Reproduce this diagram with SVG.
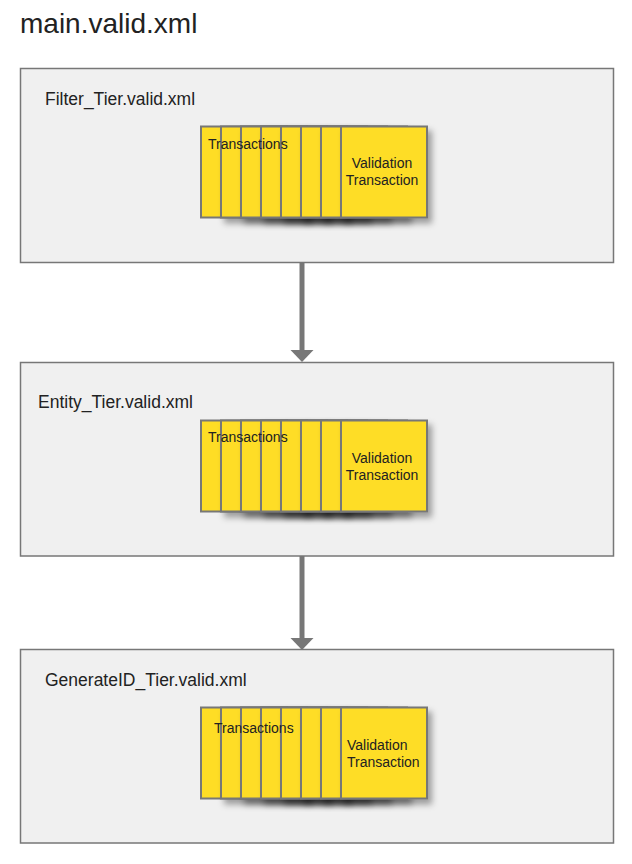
<svg xmlns="http://www.w3.org/2000/svg" width="632" height="864" viewBox="0 0 632 864">
<defs>
<style>
.tier{fill:#f0f0f0;stroke:#777;stroke-width:1.5}
.tx{fill:#fedd25;stroke:#777;stroke-width:2}
.s{filter:url(#sh)}
.t{font-family:"Liberation Sans",Arial,sans-serif;fill:#222}
.lbl{font-size:17.5px}
.small{font-size:14px}
.conn{stroke:#777;stroke-width:5;fill:none}
.head{fill:#777}
</style>
<filter id="sh" x="-20%" y="-20%" width="150%" height="160%">
<feDropShadow dx="4" dy="5" stdDeviation="3" flood-color="#000" flood-opacity="0.35"/>
</filter>
<g id="stack">
<rect class="tx" x="201" y="0" width="86" height="91"/>
<rect class="tx s" x="221" y="0" width="86" height="91"/>
<rect class="tx s" x="241" y="0" width="86" height="91"/>
<rect class="tx s" x="261" y="0" width="86" height="91"/>
<rect class="tx s" x="281" y="0" width="86" height="91"/>
<rect class="tx s" x="301" y="0" width="86" height="91"/>
<rect class="tx s" x="321" y="0" width="86" height="91"/>
<rect class="tx s" x="341" y="0" width="86" height="91"/>
</g>
</defs>
<rect width="632" height="864" fill="#fff"/>
<text class="t" x="20" y="33" font-size="28">main.valid.xml</text>

<g id="connectors">
<line class="conn" x1="302" y1="262" x2="302" y2="351"/>
<polygon class="head" points="290.5,350 313.5,350 302,362"/>
<line class="conn" x1="302" y1="556" x2="302" y2="639"/>
<polygon class="head" points="290.5,638 313.5,638 302,650"/>
</g>

<g id="filter_tier">
<rect class="tier" x="20.5" y="68.5" width="593" height="194"/>
<text class="t lbl" x="45" y="105">Filter_Tier.valid.xml</text>
<use href="#stack" y="126.5"/>
<text class="t small" x="208" y="149">Transactions</text>
<text class="t small" x="382" y="168" text-anchor="middle">Validation</text>
<text class="t small" x="382" y="185" text-anchor="middle">Transaction</text>
</g>

<g id="entity_tier">
<rect class="tier" x="20.5" y="362.5" width="593" height="193.5"/>
<text class="t lbl" x="38" y="408">Entity_Tier.valid.xml</text>
<use href="#stack" y="420.5"/>
<text class="t small" x="208" y="442">Transactions</text>
<text class="t small" x="382" y="463" text-anchor="middle">Validation</text>
<text class="t small" x="382" y="480" text-anchor="middle">Transaction</text>
</g>

<g id="generateid_tier">
<rect class="tier" x="20.5" y="649.5" width="593" height="193.5"/>
<text class="t lbl" x="45" y="686">GenerateID_Tier.valid.xml</text>
<use href="#stack" y="707.5"/>
<text class="t small" x="214" y="733">Transactions</text>
<text class="t small" x="347" y="750">Validation</text>
<text class="t small" x="347" y="767">Transaction</text>
</g>
</svg>
